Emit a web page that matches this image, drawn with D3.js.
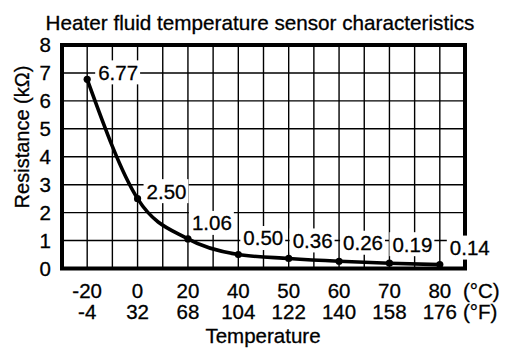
<!DOCTYPE html>
<html><head><meta charset="utf-8">
<script src="https://cdn.jsdelivr.net/npm/d3@7"></script>
<style>body{margin:0;background:#fff}svg{display:block}text{font-family:"Liberation Sans",Arial,sans-serif;fill:#000;stroke:#000;stroke-width:0.3px}</style>
</head><body><svg id="c" width="512" height="364"></svg>
<script>
const celsius = ["-20","0","20","40","50","60","70","80"];
const fahrenheit = ["-4","32","68","104","122","140","158","176"];
const resistance = [6.77, 2.50, 1.06, 0.50, 0.36, 0.26, 0.19, 0.14];
const valueLabels = ["6.77","2.50","1.06","0.50","0.36","0.26","0.19","0.14"];
const yTicks = [0,1,2,3,4,5,6,7,8];
// label offsets relative to the point (dx, dy of text center)
const labelDx = [11, 9, 4, 5, 4, 4, 3, 10];
const labelDy = [-7, -7.5, -16, -16.5, -18, -18.5, -19, -17];

const svg = d3.select("#c");
const L = 62, R = 465, T = 45, B = 268.5;
const x = d3.scaleBand().domain(celsius).range([L, R]);
const y = d3.scaleLinear().domain([0, 8]).range([B, T]);
const cx = c => x(c) + x.bandwidth() / 2;
const FS = 20.5;

// grid
const g = svg.append("g").attr("stroke", "#000").attr("stroke-width", 1.4);
yTicks.slice(1, -1).forEach(v => g.append("line").attr("x1", L).attr("x2", R).attr("y1", y(v)).attr("y2", y(v)));
celsius.forEach((c, i) => {
  g.append("line").attr("x1", cx(c)).attr("x2", cx(c)).attr("y1", T).attr("y2", B);
  if (i > 0) g.append("line").attr("x1", x(c)).attr("x2", x(c)).attr("y1", T).attr("y2", B);
});

// curve
const pts = celsius.map((c, i) => [cx(c), y(resistance[i])]);
svg.append("path").attr("d", d3.line().curve(d3.curveMonotoneX)(pts))
  .attr("fill", "none").attr("stroke", "#000").attr("stroke-width", 3.6);
svg.selectAll("circle.pt").data(pts).join("circle").attr("cx", d => d[0]).attr("cy", d => d[1]).attr("r", 3.6).attr("fill", "#000");

// frame
svg.append("rect").attr("x", L).attr("y", T).attr("width", R - L).attr("height", B - T)
  .attr("fill", "none").attr("stroke", "#000").attr("stroke-width", 4);

// value labels with white boxes
celsius.forEach((c, i) => {
  const tx = cx(c) + labelDx[i], ty = y(resistance[i]) + labelDy[i];
  const t = svg.append("text").attr("x", tx).attr("y", ty).attr("dy", "0.36em").attr("font-size", FS).text(valueLabels[i]);
  const bb = t.node().getBBox();
  svg.insert("rect", () => t.node()).attr("x", bb.x - 3).attr("y", ty - 12).attr("width", bb.width + 5).attr("height", 24).attr("fill", "#fff");
});

// y ticks
yTicks.forEach(v => svg.append("text").attr("x", 51).attr("y", y(v)).attr("dy", "0.36em").attr("text-anchor", "end").attr("font-size", FS).text(v));

// x ticks
celsius.forEach((c, i) => {
  svg.append("text").attr("x", cx(c)).attr("y", 298).attr("text-anchor", "middle").attr("font-size", FS).text(c);
  svg.append("text").attr("x", cx(c)).attr("y", 319).attr("text-anchor", "middle").attr("font-size", FS).text(fahrenheit[i]);
});
svg.append("text").attr("x", 463).attr("y", 298).attr("font-size", FS).text("(°C)");
svg.append("text").attr("x", 463).attr("y", 319).attr("font-size", FS).text("(°F)");

// titles
svg.append("text").attr("x", 260).attr("y", 30).attr("text-anchor", "middle").attr("font-size", 20.7).text("Heater fluid temperature sensor characteristics");
svg.append("text").attr("x", 263).attr("y", 343).attr("text-anchor", "middle").attr("font-size", FS).text("Temperature");
svg.append("text").attr("transform", "translate(29,137) rotate(-90)").attr("text-anchor", "middle").attr("font-size", 20).text("Resistance (kΩ)");
</script></body></html>
